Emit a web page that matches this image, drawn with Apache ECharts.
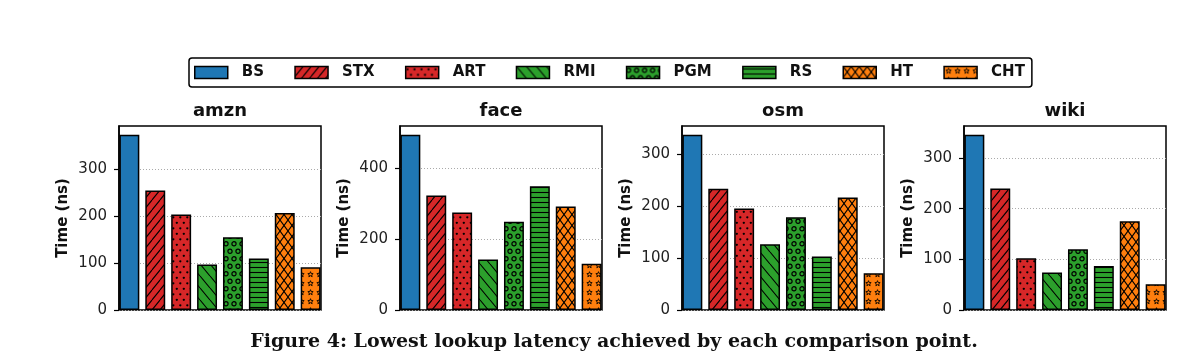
<!DOCTYPE html>
<html><head><meta charset="utf-8">
<script src="https://cdn.jsdelivr.net/npm/echarts@6/dist/echarts.min.js"></script>
<style>html,body{margin:0;padding:0;background:#fff}#c{width:1196px;height:357px}</style>
</head><body><div id="c"></div>
<script>
// ---- data ----
const methods = ['BS','STX','ART','RMI','PGM','RS','HT','CHT'];
const datasets = ['amzn','face','osm','wiki'];
const amznValues = [374,255,204,97,155,110,207,91];
const faceValues = [493,322,274,142,248,348,291,130];
const osmValues  = [338,234,196,127,179,103,217,71];
const wikiValues = [346,240,102,74,120,87,175,51];
const amznTicks = [0,100,200,300];
const faceTicks = [0,200,400];
const osmTicks  = [0,100,200,300];
const wikiTicks = [0,100,200,300];
const yAxisName = 'Time (ns)';
const caption = 'Figure 4: Lowest lookup latency achieved by each comparison point.';

// ---- styles ----
const panelValues = [amznValues, faceValues, osmValues, wikiValues];
const panelTicks = [amznTicks, faceTicks, osmTicks, wikiTicks];
const gridLefts = [119, 400, 682, 964];
const gridTop = 126, gridW = 202, gridH = 184;
const FONT = 'DejaVu Sans';
const methodStyle = {
  BS:  {color:'#1f77b4', hatch:null},
  STX: {color:'#d62728', hatch:'fwd'},
  ART: {color:'#d62728', hatch:'dots'},
  RMI: {color:'#2ca02c', hatch:'back'},
  PGM: {color:'#2ca02c', hatch:'rings'},
  RS:  {color:'#2ca02c', hatch:'hlines'},
  HT:  {color:'#ff7f0e', hatch:'cross'},
  CHT: {color:'#ff7f0e', hatch:'stars'}
};

function makePattern(kind, color) {
  if (!kind) return color;
  const sizes = {fwd:[8,10], back:[10,12], dots:[7,11], rings:[8,15], hlines:[8,5], cross:[8,11], stars:[9,9]};
  const [w, h] = sizes[kind];
  const c = document.createElement('canvas');
  c.width = w; c.height = h;
  const ctx = c.getContext('2d');
  ctx.fillStyle = color; ctx.fillRect(0, 0, w, h);
  ctx.strokeStyle = '#000'; ctx.fillStyle = '#000'; ctx.lineWidth = 1.1;
  const rep = (fn) => { for (let dx=-1; dx<=1; dx++) for (let dy=-1; dy<=1; dy++) fn(dx*w, dy*h); };
  if (kind === 'fwd' || kind === 'cross') {
    ctx.beginPath();
    for (const o of [-w, 0, w]) { ctx.moveTo(o, h); ctx.lineTo(o + w, 0); }
    ctx.stroke();
  }
  if (kind === 'back' || kind === 'cross') {
    ctx.beginPath();
    for (const o of [-w, 0, w]) { ctx.moveTo(o, 0); ctx.lineTo(o + w, h); }
    ctx.stroke();
  }
  if (kind === 'hlines') {
    ctx.beginPath(); ctx.moveTo(0, 2.5); ctx.lineTo(w, 2.5); ctx.stroke();
  }
  if (kind === 'dots') {
    rep((ox, oy) => {
      for (const [x, y] of [[1.8, 2.8], [5.3, 8.3]]) {
        ctx.beginPath(); ctx.arc(x + ox, y + oy, 1.15, 0, Math.PI*2); ctx.fill();
      }
    });
  }
  if (kind === 'rings') {
    ctx.lineWidth = 1.2;
    rep((ox, oy) => {
      for (const [x, y] of [[2, 3.8], [6, 11.3]]) {
        ctx.beginPath(); ctx.arc(x + ox, y + oy, 2.1, 0, Math.PI*2); ctx.stroke();
      }
    });
  }
  if (kind === 'stars') {
    ctx.lineWidth = 0.9;
    rep((ox, oy) => {
      const cx = 4.5 + ox, cy = 4.5 + oy, R = 2.8, r = 1.2;
      ctx.beginPath();
      for (let k = 0; k < 10; k++) {
        const a = -Math.PI/2 + k*Math.PI/5, rr = k % 2 ? r : R;
        const px = cx + rr*Math.cos(a), py = cy + rr*Math.sin(a);
        k ? ctx.lineTo(px, py) : ctx.moveTo(px, py);
      }
      ctx.closePath(); ctx.stroke();
    });
  }
  return {image: c, repeat: 'repeat'};
}

const fills = {};
methods.forEach(m => { fills[m] = makePattern(methodStyle[m].hatch, methodStyle[m].color); });

const barPx = gridW / 7.8 * 0.77;

const grids = [], xAxes = [], yAxes = [], series = [], graphics = [];
datasets.forEach((ds, g) => {
  grids.push({left: gridLefts[g], top: gridTop, width: gridW, height: gridH,
    show: true, borderColor: '#000', borderWidth: 1.5, backgroundColor: 'transparent'});
  xAxes.push({type: 'value', gridIndex: g, min: -0.4, max: 7.4, show: false});
  const ticks = panelTicks[g];
  yAxes.push({
    type: 'value', gridIndex: g, min: 0, max: v => v.max * 1.05,
    interval: ticks[1] - ticks[0],
    axisLine: {show: true, onZero: false, lineStyle: {color: '#000', width: 1.5}},
    axisTick: {show: true, length: 5, lineStyle: {color: '#000', width: 1.2}, customValues: ticks},
    axisLabel: {customValues: ticks, fontSize: 15, color: '#222', margin: 12, fontFamily: FONT},
    splitLine: {show: true, lineStyle: {color: '#aaa', type: [1, 2], width: 1}},
    name: yAxisName, nameLocation: 'middle', nameGap: 48,
    nameTextStyle: {fontWeight: 'bold', fontSize: 15, fontFamily: FONT, color: '#111'}
  });
  methods.forEach((m, i) => {
    series.push({
      type: 'bar', name: m, xAxisIndex: g, yAxisIndex: g,
      data: [[i, panelValues[g][i]]],
      barWidth: barPx, barGap: '-100%',
      itemStyle: {color: fills[m], borderColor: '#000', borderWidth: 1.5}
    });
  });
  graphics.push({type: 'text', x: gridLefts[g] + gridW/2, y: 111,
    style: {text: ds, textAlign: 'center', textVerticalAlign: 'middle',
      font: 'bold 18px "DejaVu Sans"', fill: '#111'}});
});
graphics.push({type: 'text', x: 614, y: 342,
  style: {text: caption, textAlign: 'center', textVerticalAlign: 'middle',
    font: 'bold 19px "DejaVu Serif"', fill: '#111'}});

const chart = echarts.init(document.getElementById('c'), null, {renderer: 'canvas'});
chart.setOption({
  animation: false,
  backgroundColor: '#fff',
  grid: grids, xAxis: xAxes, yAxis: yAxes, series: series,
  legend: {
    data: methods, left: 189, top: 58, orient: 'horizontal',
    itemWidth: 33, itemHeight: 12, itemGap: 30.3, padding: [7, 7, 7, 5],
    borderColor: '#000', borderWidth: 1.5, borderRadius: 3, selectedMode: false,
    icon: 'rect',
    itemStyle: {borderColor: '#000', borderWidth: 1.5},
    textStyle: {fontFamily: FONT, fontWeight: 'bold', fontSize: 15, color: '#111', padding: [0, 0, 0, 9]}
  },
  graphic: graphics
});
</script>
</body></html>
